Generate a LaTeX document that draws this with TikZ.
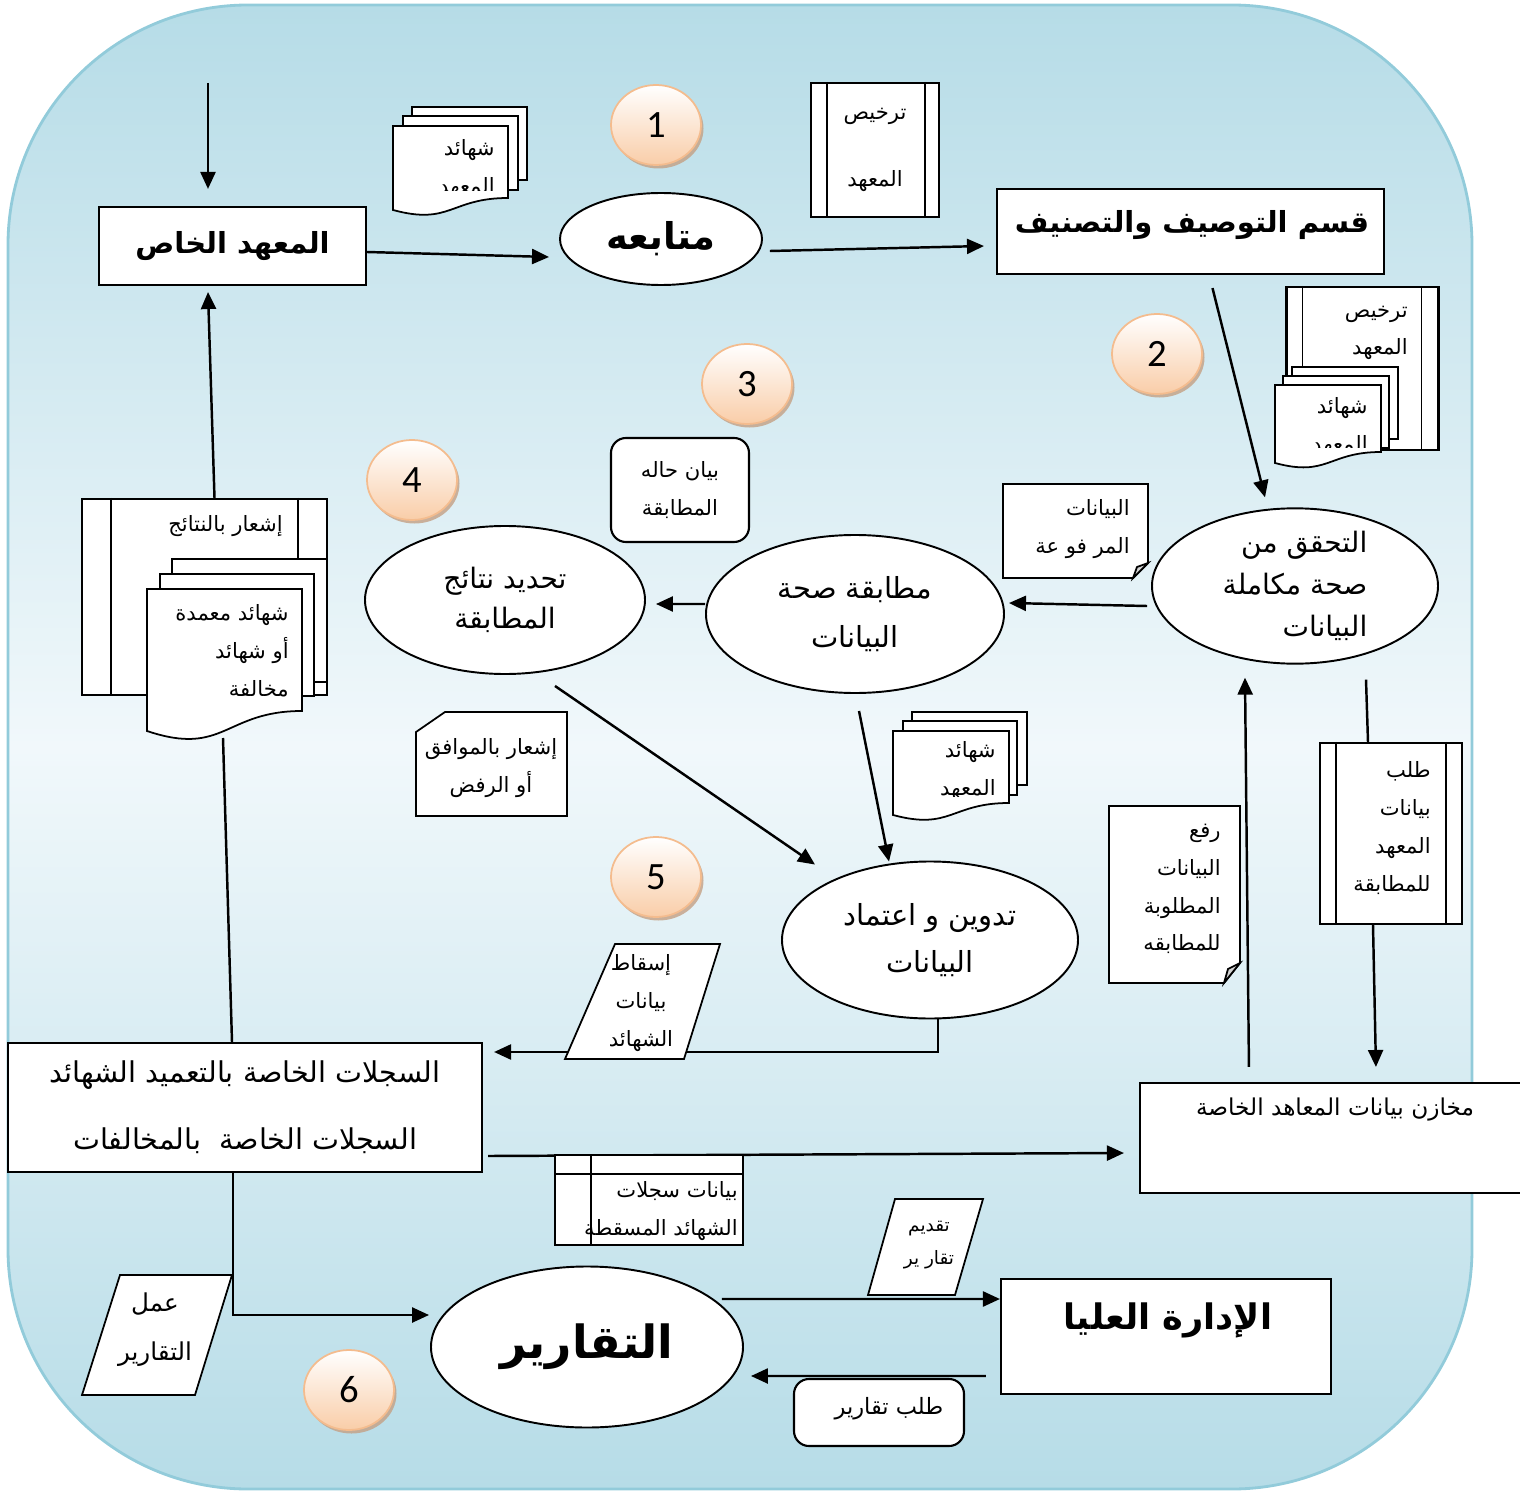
\documentclass[tikz,border=0pt]{standalone}
\usepackage{fontspec}
\newfontfamily\arabicfont[Script=Arabic]{DejaVu Sans}
\newfontfamily\numfont{Carlito}
\TeXXeTstate=1
\usetikzlibrary{shapes.geometric,arrows.meta,calc,shadows,positioning}
\definecolor{bgtop}{HTML}{B6DCE7}
\definecolor{bgmid}{HTML}{F1F8FB}
\definecolor{bgedge}{HTML}{92CBDA}
\definecolor{numbot}{HTML}{F9CDA8}
\definecolor{numedge}{HTML}{F4BC8E}
\definecolor{numshade}{HTML}{C4A084}
\newcommand{\arl}[1]{\beginR#1\endR}
\newcommand{\docpage}[5]{%
  \filldraw[page] (#1,#2) -- (#3,#2) -- (#3,#4)
    .. controls ({(#1+#3)/2},#4) and ({(#1+#3)/2},{#4+2.3*#5}) .. (#1,{#4+#5}) -- cycle;}
\newcommand{\sidebars}[3]{%
  \draw[page] ([xshift=#2]#1.north west) -- ([xshift=#2]#1.south west)
    ([xshift=-#3]#1.north east) -- ([xshift=-#3]#1.south east);}
\tikzset{
  box/.style={draw, fill=white, line width=1.2pt, inner sep=0pt},
  proc/.style={ellipse, draw, fill=white, line width=1.1pt, inner sep=0pt},
  page/.style={draw, fill=white, line width=1pt},
  num/.style={ellipse, draw=numedge, line width=1pt, top color=white, bottom color=numbot,
    minimum width=18mm, minimum height=16mm, inner sep=0pt,
    drop shadow={shadow xshift=0.5mm, shadow yshift=-0.7mm, fill=numshade, opacity=0.8},
    font=\numfont\fontsize{22}{22}\selectfont},
  arr/.style={line width=1.4pt, -{Triangle[length=3.4mm,width=3mm]}},
  link/.style={line width=1.4pt},
  small/.style={font=\arabicfont\fontsize{12}{21.5}\selectfont, inner sep=0pt},
  headb/.style={font=\arabicfont\bfseries\fontsize{16.5}{22}\selectfont}
}
\begin{document}
\begin{tikzpicture}[x=0.2mm, y=-0.2mm]
\useasboundingbox (0,0) rectangle (1520,1493);
\path[draw=bgedge, line width=1.6pt, rounded corners=48mm, top color=bgtop,
  bottom color=bgtop, middle color=bgmid] (8,5) rectangle (1472,1489);

% top row
\coordinate (in0) at (208,83);
\node[box, headb, minimum width=53.4mm, minimum height=15.6mm] (inst) at (232.5,246) {\arl{المعهد الخاص}};
\filldraw[page] (412,107) rectangle (527,180);
\filldraw[page] (403,116) rectangle (518,190);
\docpage{393}{126}{508}{198}{12}
\begin{scope}
  \clip (393,126) rectangle (508,191);
  \node[small, align=right, anchor=east] (cert1) at (495,169) {\arl{شهائد}\\\arl{المعهد}};
\end{scope}
\node[num] (n1) at (656,125) {1};
\node[proc, minimum width=40.4mm, minimum height=18.4mm,
  font=\arabicfont\bfseries\fontsize{21}{26}\selectfont] (follow) at (661,239) {\arl{متابعه}};
\node[box, minimum width=25.6mm, minimum height=26.8mm, align=center,
  font=\arabicfont\fontsize{12}{38.5}\selectfont] (lic1) at (875,150) {\arl{ترخيص}\\\arl{المعهد}};
\sidebars{lic1}{3.4mm}{3mm}
\node[box, minimum width=77.4mm, minimum height=17mm] (qsm) at (1190.5,231.5) {};
\node[headb] (qsmt) at (1192,225) {\arl{قسم التوصيف والتصنيف}};

% licence and certificates
\node[num] (n2) at (1157,354) {2};
\node[box, minimum width=30.4mm, minimum height=32.6mm] (lic2) at (1362.5,368.5) {};
\sidebars{lic2}{3.4mm}{3.6mm}
\node[small, align=right, anchor=east] (lic2t) at (1408,333) {\arl{ترخيص}\\\arl{المعهد}};
\filldraw[page] (1292,367) rectangle (1398,439);
\filldraw[page] (1283,376) rectangle (1389,448);
\docpage{1275}{385}{1381}{452}{11}
\begin{scope}
  \clip (1275,385) rectangle (1381,447);
  \node[small, align=right, anchor=east] (cert2) at (1368,427) {\arl{شهائد}\\\arl{المعهد}};
\end{scope}

% middle row
\node[proc, minimum width=57.2mm, minimum height=28.4mm, align=right,
  font=\arabicfont\fontsize{16}{24}\selectfont] (verify) at (1295,586) {\arl{التحقق من}\\\arl{صحة مكاملة}\\\arl{البيانات}};
\node[proc, minimum width=59.6mm, minimum height=31.6mm, align=center,
  font=\arabicfont\fontsize{16.5}{28}\selectfont] (match) at (855,614) {\arl{مطابقة صحة}\\\arl{البيانات}};
\node[proc, minimum width=56mm, minimum height=29.6mm, align=center,
  font=\arabicfont\fontsize{16}{23}\selectfont] (det) at (505,600) {\arl{تحديد نتائج}\\\arl{المطابقة}};
\node[num] (n3) at (747,384) {3};
\node[num] (n4) at (412,480) {4};
\node[box, small, rounded corners=3mm, minimum width=27.6mm, minimum height=20.8mm,
  align=center] (stat) at (680,490) {\arl{بيان حاله}\\\arl{المطابقة}};
\filldraw[page] (1003,484) -- (1148,484) -- (1148,563) -- (1133,578) -- (1003,578) -- cycle;
\filldraw[page, fill=gray!35] (1133,578) -- (1137,567) -- (1148,563) -- cycle;
\node[small, align=right, anchor=east] (upl) at (1130,529) {\arl{البيانات}\\\arl{المر فو عة}};

% results notice
\node[box, minimum width=49mm, minimum height=39.2mm] (notify) at (204.5,597) {};
\sidebars{notify}{6mm}{6mm}
\node[small, anchor=east] (notifyt) at (283,526) {\arl{إشعار بالنتائج}};
\filldraw[page] (172,559) rectangle (327,682);
\filldraw[page] (160,574) rectangle (314,696);
\docpage{147}{589}{302}{711}{20}
\node[small, align=right, anchor=east] (approved) at (289,651) {\arl{شهائد معمدة}\\\arl{أو شهائد}\\\arl{مخالفة}};
\coordinate (nwave) at (223,738);
\filldraw[page] (416,732) -- (445,712) -- (567,712) -- (567,816) -- (416,816) -- cycle;
\node[small, align=center] (agree) at (491,768) {\arl{إشعار بالموافق}\\\arl{أو الرفض}};

% recording
\filldraw[page] (912,712) rectangle (1027,785);
\filldraw[page] (903,721) rectangle (1017,795);
\docpage{893}{731}{1009}{803}{12}
\begin{scope}
  \clip (893,731) rectangle (1009,796);
  \node[small, align=right, anchor=east] (cert3) at (996,771) {\arl{شهائد}\\\arl{المعهد}};
\end{scope}
\node[num] (n5) at (656,877) {5};
\node[proc, minimum width=59.2mm, minimum height=31.4mm, align=center,
  font=\arabicfont\fontsize{16.5}{27}\selectfont] (record) at (930,940) {\arl{تدوين و اعتماد}\\\arl{البيانات}};
\node[box, minimum width=28.4mm, minimum height=36.2mm] (req) at (1391,833.5) {};
\sidebars{req}{3.4mm}{3.4mm}
\node[small, align=right, anchor=east] (reqt) at (1431,828) {\arl{طلب}\\\arl{بيانات}\\\arl{المعهد}\\\arl{للمطابقة}};
\filldraw[page] (1109,806) -- (1240,806) -- (1240,963) -- (1224,983) -- (1109,983) -- cycle;
\filldraw[page, fill=gray!35] (1224,983) -- (1228,969) -- (1240,963) -- cycle;
\node[small, align=right, anchor=east] (raise) at (1221,889) {\arl{رفع}\\\arl{البيانات}\\\arl{المطلوبة}\\\arl{للمطابقه}};

% records and stores
\node[box, minimum width=94.8mm, minimum height=25.8mm, align=center,
  font=\arabicfont\fontsize{16.3}{38}\selectfont] (regs) at (245,1107.5) {\arl{السجلات الخاصة بالتعميد الشهائد}\\\arl{السجلات الخاصة\ \ بالمخالفات}};
\node[box, minimum width=78mm, minimum height=22mm] (store) at (1335,1138) {};
\node[small, font=\arabicfont\fontsize{13.2}{21.5}\selectfont] (storet) at (1335,1110) {\arl{مخازن بيانات المعاهد الخاصة}};

% reports
\node[num] (n6) at (349,1390) {6};
\node[proc, minimum width=62.4mm, minimum height=32.2mm,
  font=\arabicfont\bfseries\fontsize{26}{30}\selectfont] (rep) at (587,1347) {\arl{التقارير}};
\node[box, minimum width=66mm, minimum height=23mm] (mgmt) at (1166,1336.5) {};
\node[font=\arabicfont\bfseries\fontsize{20}{24}\selectfont] (mgmtt) at (1168,1320) {\arl{الإدارة العليا}};
\node[box, rounded corners=3mm, minimum width=34mm, minimum height=13.4mm] (askrep) at (879,1412.5) {};
\node[small, font=\arabicfont\fontsize{12.8}{21.5}\selectfont] (askrept) at (889,1409) {\arl{طلب تقارير}};

% flows
\draw[arr, shorten >=3.4mm] (in0) -- (in0 |- inst.north);
\draw[arr] ([yshift=-1.2mm]inst.east) -- ([xshift=-2mm,yshift=-3.6mm]follow.west);
\draw[arr] ([xshift=1.4mm,yshift=-2.4mm]follow.east) -- ([xshift=-2.4mm,yshift=-2.9mm]qsm.west);
\draw[arr] ([xshift=4.4mm,yshift=-2.6mm]qsm.south) -- ([xshift=-6mm,yshift=2mm]verify.north);
\draw[arr] ([xshift=-0.8mm,yshift=-4mm]verify.west) -- ([xshift=0.8mm,yshift=2.2mm]match.east);
\draw[arr] ([yshift=2mm]match.west) -- ([xshift=2mm,yshift=-0.8mm]det.east);
\draw[arr] ([xshift=10mm,yshift=-2.2mm]det.south) -- ([xshift=-23mm,yshift=-0.8mm]record.north);
\draw[arr] ([xshift=0.8mm,yshift=-3.4mm]match.south) -- ([xshift=-8.2mm,yshift=-0.2mm]record.north);
\draw[arr] ([xshift=1.6mm]record.south) |- ([xshift=2.2mm,yshift=11.1mm]regs.east);
\draw[arr] ([xshift=2mm]notify.north) -- ([xshift=-4.9mm,yshift=-1.2mm]inst.south);
\draw[link] (nwave) -- ([xshift=-2.6mm]regs.north);
\draw[arr] ([xshift=1mm,yshift=-9.7mm]regs.east) -- ([xshift=-3mm,yshift=-3mm]store.west);
\draw[arr] ([xshift=22mm,yshift=3mm]store.north west) -- ([xshift=-10mm,yshift=-2.6mm]verify.south);
\draw[link] ([xshift=14.2mm,yshift=-3mm]verify.south) -- ([xshift=-4.6mm]req.north);
\draw[arr] ([xshift=-3.6mm]req.south) -- ([xshift=47.4mm,yshift=3mm]store.north west);
\draw[arr] ([xshift=-2.4mm]regs.south) |- ([xshift=-0.2mm,yshift=6.4mm]rep.west);
\draw[arr] ([xshift=-4.4mm,yshift=9.6mm]rep.east) -- ([yshift=7.5mm]mgmt.west);
\draw[arr] ([xshift=-2.8mm,yshift=-7.9mm]mgmt.west) -- ([xshift=1.4mm,yshift=-5.8mm]rep.east);

% data on the flows
\filldraw[page] (565,1059) -- (615,944) -- (720,944) -- (684,1059) -- cycle;
\node[small, align=center] (drop) at (641,1003) {\arl{إسقاط}\\\arl{بيانات}\\\arl{الشهائد}};
\filldraw[page] (555,1155) rectangle (743,1245);
\draw[page] (591,1155) -- (591,1245) (555,1174) -- (743,1174);
\node[small, align=right, anchor=east] (dropped) at (738,1211) {\arl{بيانات سجلات}\\\arl{الشهائد المسقطة}};
\filldraw[page] (868,1295) -- (895,1199) -- (983,1199) -- (955,1295) -- cycle;
\node[font=\arabicfont\fontsize{10.5}{19}\selectfont, align=center] (submit) at (929,1245) {\arl{تقديم}\\\arl{تقار ير}};
\filldraw[page] (82,1395) -- (120,1275) -- (232,1275) -- (195,1395) -- cycle;
\node[font=\arabicfont\fontsize{14}{28}\selectfont, align=center] (make) at (155,1330) {\arl{عمل}\\\arl{التقارير}};
\end{tikzpicture}
\end{document}
